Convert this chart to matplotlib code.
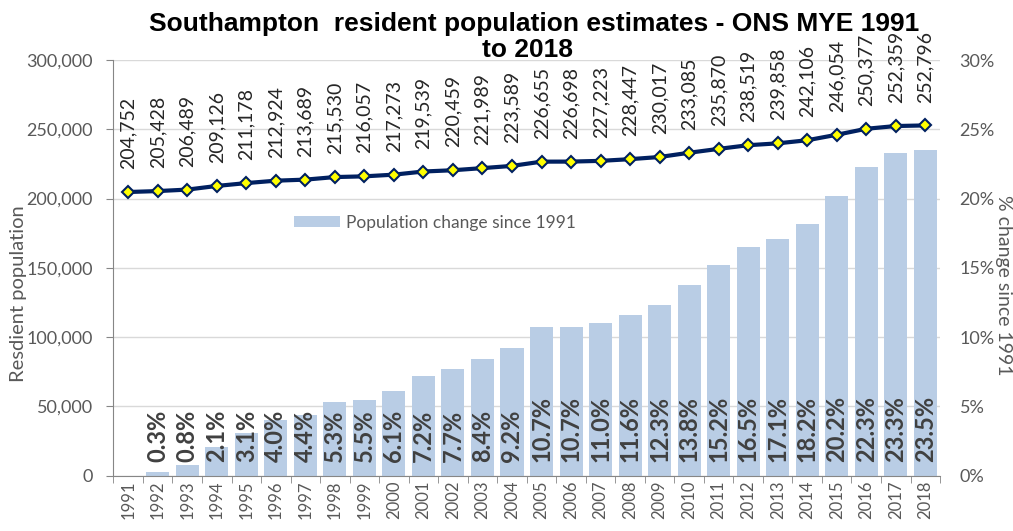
import matplotlib
matplotlib.use("Agg")
import matplotlib.pyplot as plt
import numpy as np

years = [str(y) for y in range(1991, 2019)]
population = [204752, 205428, 206489, 209126, 211178, 212924, 213689, 215530,
              216057, 217273, 219539, 220459, 221989, 223589, 226655, 226698,
              227223, 228447, 230017, 233085, 235870, 238519, 239858, 242106,
              246054, 250377, 252359, 252796]
pct_change = [0.0, 0.3, 0.8, 2.1, 3.1, 4.0, 4.4, 5.3, 5.5, 6.1, 7.2, 7.7, 8.4,
              9.2, 10.7, 10.7, 11.0, 11.6, 12.3, 13.8, 15.2, 16.5, 17.1, 18.2,
              20.2, 22.3, 23.3, 23.5]

plt.rcParams['font.family'] = ['Lato', 'DejaVu Sans']

W, H = 1013, 531
fig = plt.figure(figsize=(W / 100, H / 100), dpi=100)
ax = fig.add_axes([0.112, 0.104, 0.816, 0.783])
ax2 = ax.twinx()

x = np.arange(len(years))
grey = '#595959'

# bars on secondary axis (percent)
ax2.bar(x, pct_change, width=0.78, color='#b9cde5', zorder=1,
        label='Population change since 1991')
for xi, v in zip(x, pct_change):
    if v > 0:
        ax2.text(xi, 1.0, f"{v:.1f}%", rotation=90, ha='center', va='bottom',
                 fontsize=17, fontweight='bold', color='#404040', zorder=5)

ax2.set_ylim(0, 30)
ax2.set_yticks(np.arange(0, 31, 5))
ax2.set_yticklabels([f"{int(t)}%" for t in np.arange(0, 31, 5)])

# line on primary axis, drawn above bars
ax.set_zorder(ax2.get_zorder() + 1)
ax.patch.set_visible(False)
ax.plot(x, population, color='#002060', lw=3, marker='D', markersize=6.5,
        markerfacecolor='#ffff00', markeredgecolor='#002060',
        markeredgewidth=1.5, zorder=4)
for xi, v in zip(x, population):
    ax.text(xi, v + 16500, f"{v:,}", rotation=90, ha='center', va='bottom',
            fontsize=14, color='#262626', zorder=5)

ax.set_ylim(0, 300000)
ax.set_yticks(np.arange(0, 300001, 50000))
ax.set_yticklabels([f"{t:,}" for t in range(0, 300001, 50000)])
ax.set_xlim(-0.5, len(years) - 0.5)
ax.set_xticks(x)
ax.set_xticklabels(years, rotation=90)
ax2.set_xlim(-0.5, len(years) - 0.5)

# axis titles placed as in the reference
fig.text(19 / W, 1 - 294 / H, 'Resdient population', rotation=90,
         ha='center', va='center', fontsize=14.5, color=grey)
fig.text(1003 / W, 1 - 285 / H, '% change since 1991', rotation=-90,
         ha='center', va='center', fontsize=14, color=grey)

# gridlines drawn on bar axis (behind)
for t in np.arange(0, 31, 5):
    ax2.axhline(t, color='#d9d9d9', lw=1, zorder=0)

for a in (ax, ax2):
    for s in ('top', 'right'):
        a.spines[s].set_visible(False)
    a.spines['left'].set_visible(False)
    a.tick_params(axis='y', length=0, labelsize=13, labelcolor=grey)
ax.spines['left'].set_visible(True)
ax.spines['left'].set_color('#868686')
ax.spines['bottom'].set_color('#868686')
ax2.spines['bottom'].set_visible(False)
ax.tick_params(axis='y', length=5, color='#868686', direction='out', pad=10)
ax2.tick_params(axis='y', pad=14)
ax.tick_params(axis='x', length=5, color='#868686', labelsize=12,
               labelcolor=grey)
# tick marks between categories
ax.set_xticks(np.arange(-0.5, len(years), 1), minor=True)
ax.tick_params(axis='x', which='major', length=0)
ax.tick_params(axis='x', which='minor', length=5, color='#868686')

leg = ax2.legend(loc='upper left', bbox_to_anchor=(0.2, 0.665), frameon=False,
                 fontsize=12.5, handlelength=2.6, handleheight=0.6,
                 handletextpad=0.4, labelcolor=grey)

title_font = dict(ha='center', va='baseline', fontsize=19, fontweight='bold',
                  family=['Liberation Sans', 'DejaVu Sans'])
fig.text(0.527, 1 - 31 / H, 'Southampton  resident population estimates - ONS MYE 1991',
         **title_font)
fig.text(0.521, 1 - 57 / H, 'to 2018', **title_font)

fig.savefig('out.png', dpi=100)
